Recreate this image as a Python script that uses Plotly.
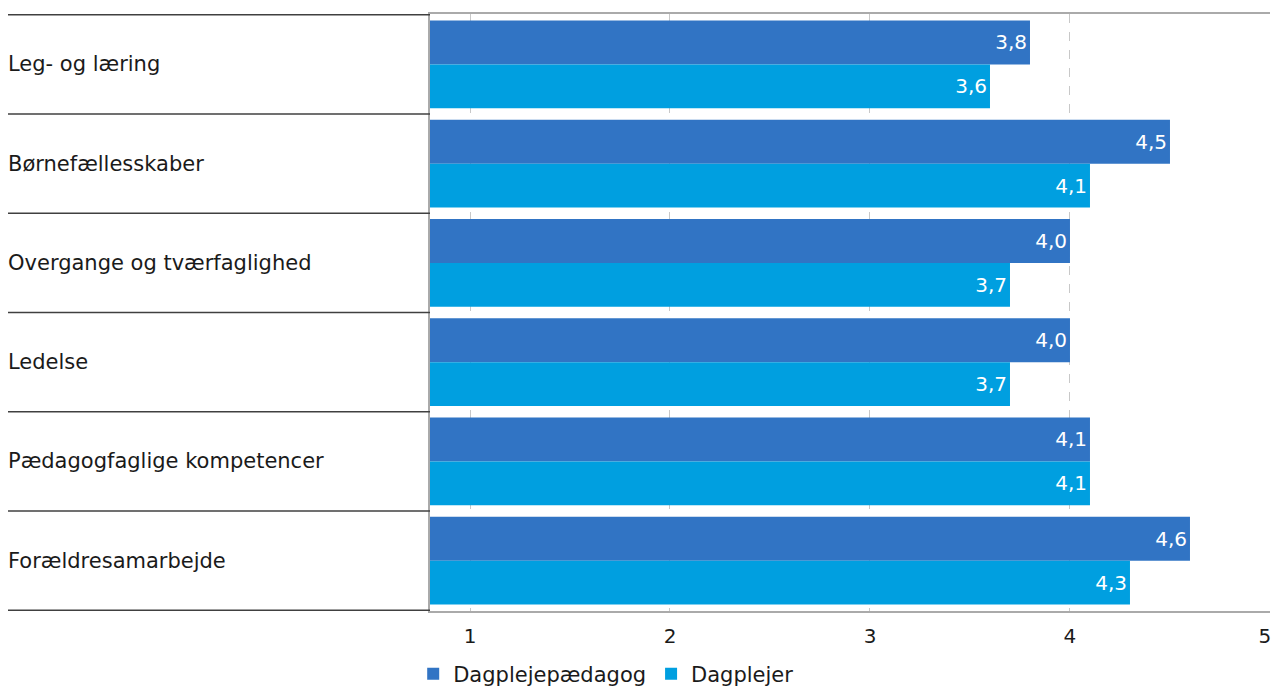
import plotly.graph_objects as go

categories = ["Leg- og læring", "Børnefællesskaber", "Overgange og tværfaglighed",
              "Ledelse", "Pædagogfaglige kompetencer", "Forældresamarbejde"]
series_names = ["Dagplejepædagog", "Dagplejer"]
dagplejepaedagog = [3.8, 4.5, 4.0, 4.0, 4.1, 4.6]
dagplejer = [3.6, 4.1, 3.7, 3.7, 4.1, 4.3]
x_ticks = [1, 2, 3, 4, 5]
x_ticktext = ["1", "2", "3", "4", "5\u2002"]

colors = ["#3174C4", "#009FE0"]
FONT = "DejaVu Sans, Verdana, sans-serif"

W, H = 1271, 686
ML, MR, MT, MB = 430, 1, 14, 75
plot_w = W - ML - MR

fig = go.Figure()
for name, vals, col in zip(series_names, [dagplejepaedagog, dagplejer], colors):
    fig.add_trace(go.Bar(
        y=categories, x=vals, name=name, orientation="h",
        marker=dict(color=col, line=dict(width=0)),
        text=vals, texttemplate="%{x:.1f}", textposition="inside",
        insidetextanchor="end", textangle=0,
        textfont=dict(color="white", size=20, family=FONT),
        hoverinfo="skip",
    ))

shapes = []
left_x = (8 - ML) / plot_w
for i in range(len(categories) + 1):
    shapes.append(dict(type="line", xref="paper", yref="y",
                       x0=left_x, x1=0, y0=i - 0.5, y1=i - 0.5,
                       line=dict(color="#404040", width=1.5)))

annotations = []
text_x = (6 - ML) / plot_w
for c in categories:
    annotations.append(dict(xref="paper", yref="y", x=text_x, y=c,
                            text=c, showarrow=False, xanchor="left",
                            font=dict(size=21, color="#1a1a1a", family=FONT)))

fig.update_layout(
    width=W, height=H,
    margin=dict(l=ML, r=MR, t=MT, b=MB, autoexpand=False),
    paper_bgcolor="white", plot_bgcolor="white",
    barmode="group", bargap=0.115, bargroupgap=0,
    separators=",.",
    font=dict(family=FONT, size=20, color="#1a1a1a"),
    xaxis=dict(range=[0.8, 5.0001], tickvals=x_ticks, ticktext=x_ticktext,
               showgrid=True,
               gridcolor="#c8c8c8", griddash="dash", gridwidth=1,
               showline=True, linecolor="#aaaaaa", linewidth=2, mirror=True,
               zeroline=False, ticks="", ticklabelstandoff=6,
               ticklabeloverflow="allow",
               tickfont=dict(size=20, color="#1a1a1a", family=FONT)),
    yaxis=dict(autorange="reversed", showticklabels=False, showgrid=False,
               showline=True, linecolor="#aaaaaa", linewidth=2, mirror=False,
               ticks="", zeroline=False),
    shapes=shapes, annotations=annotations,
    legend=dict(orientation="h", xref="paper", x=-0.02, xanchor="left",
                yref="container", y=1 - 674 / H, yanchor="middle",
                font=dict(size=21, color="#1a1a1a", family=FONT),
                itemwidth=30, traceorder="normal"),
    showlegend=True,
)

fig.write_html("out.html", config={"displayModeBar": False},
               post_script="document.body.style.margin='0';document.body.style.overflow='hidden';")
